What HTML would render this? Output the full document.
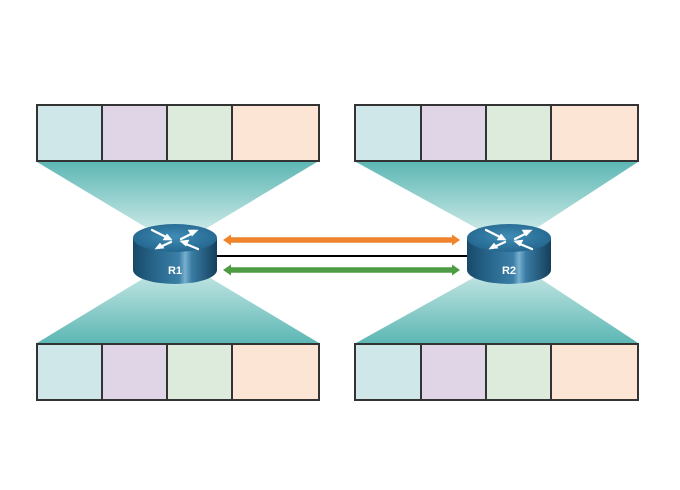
<!DOCTYPE html>
<html><head><meta charset="utf-8"><style>html,body{margin:0;padding:0;background:#fff}svg{display:block}</style></head>
<body>
<svg width="680" height="490" viewBox="0 0 680 490" xmlns="http://www.w3.org/2000/svg">
<defs>
<linearGradient id="cTop" x1="0" y1="0" x2="0" y2="1">
<stop offset="0" stop-color="#5db7b4"/><stop offset="0.85" stop-color="#cdeae8"/><stop offset="1" stop-color="#dff2f1"/>
</linearGradient>
<linearGradient id="cBot" x1="0" y1="1" x2="0" y2="0">
<stop offset="0" stop-color="#5db7b4"/><stop offset="0.8" stop-color="#bfe4e2"/><stop offset="1" stop-color="#dff2f1"/>
</linearGradient>
<linearGradient id="body" x1="0" y1="0" x2="1" y2="0">
<stop offset="0" stop-color="#174a68"/><stop offset="0.3" stop-color="#2a6a90"/><stop offset="0.55" stop-color="#3b7fa7"/><stop offset="0.62" stop-color="#78b0cf"/><stop offset="0.7" stop-color="#3a7ca4"/><stop offset="1" stop-color="#143f5b"/>
</linearGradient>
<radialGradient id="topf" cx="0.5" cy="0.45" r="0.6">
<stop offset="0" stop-color="#3f8cb5"/><stop offset="1" stop-color="#22648c"/>
</radialGradient>
<g id="router">
<rect x="-42" y="0" width="84" height="32" fill="url(#body)"/>
<ellipse cx="0" cy="32" rx="42" ry="14" fill="url(#body)"/>
<ellipse cx="0" cy="0" rx="42" ry="14" fill="url(#topf)"/>
<g stroke="#fff" stroke-width="2.3" fill="#fff" stroke-linecap="round">
<line x1="-23" y1="-8" x2="-9" y2="-1"/>
<polygon points="-3,2 -12,2 -8,-4" stroke-width="0.5"/>
<line x1="6" y1="1" x2="18" y2="-5"/>
<polygon points="23,-8 13,-8 17,-2" stroke-width="0.5"/>
<line x1="-4" y1="4" x2="-15" y2="9"/>
<polygon points="-20,11 -15,5 -11,10" stroke-width="0.5"/>
<line x1="23" y1="11" x2="11" y2="6"/>
<polygon points="5,3 14,2 11,8" stroke-width="0.5"/>
</g>
</g>
</defs>

<!-- cones -->
<polygon points="37,162 317,162 177,246" fill="url(#cTop)"/>
<polygon points="37,343 319,343 177,258" fill="url(#cBot)"/>
<polygon points="356,162 638,162 509,246" fill="url(#cTop)"/>
<polygon points="356,343 638,343 509,258" fill="url(#cBot)"/>

<!-- boxes -->
<g stroke="#333" stroke-width="2">
<rect x="37" y="105" width="65" height="56" fill="#cfe7e8"/>
<rect x="102" y="105" width="65" height="56" fill="#e0d5e7"/>
<rect x="167" y="105" width="65" height="56" fill="#dcebdb"/>
<rect x="232" y="105" width="87" height="56" fill="#fde5d5"/>
<rect x="37" y="344" width="65" height="56" fill="#cfe7e8"/>
<rect x="102" y="344" width="65" height="56" fill="#e0d5e7"/>
<rect x="167" y="344" width="65" height="56" fill="#dcebdb"/>
<rect x="232" y="344" width="87" height="56" fill="#fde5d5"/>
<rect x="355" y="105" width="66" height="56" fill="#cfe7e8"/>
<rect x="421" y="105" width="65" height="56" fill="#e0d5e7"/>
<rect x="486" y="105" width="65" height="56" fill="#dcebdb"/>
<rect x="551" y="105" width="87" height="56" fill="#fde5d5"/>
<rect x="355" y="344" width="66" height="56" fill="#cfe7e8"/>
<rect x="421" y="344" width="65" height="56" fill="#e0d5e7"/>
<rect x="486" y="344" width="65" height="56" fill="#dcebdb"/>
<rect x="551" y="344" width="87" height="56" fill="#fde5d5"/>
</g>

<!-- link -->
<line x1="215" y1="256" x2="470" y2="256" stroke="#000" stroke-width="2"/>
<polygon points="223,240 231,234.5 231,237.2 452,237.2 452,234.5 460,240 452,245.5 452,242.8 231,242.8 231,245.5" fill="#f0842c"/>
<polygon points="223,270 231,264.5 231,267.2 452,267.2 452,264.5 460,270 452,275.5 452,272.8 231,272.8 231,275.5" fill="#4d9c44"/>

<!-- routers -->
<use href="#router" x="175" y="238"/>
<use href="#router" x="509" y="238"/>
<text x="175" y="274" font-family="Liberation Sans, sans-serif" font-weight="bold" font-size="11" fill="#fff" text-anchor="middle">R1</text>
<text x="509" y="274" font-family="Liberation Sans, sans-serif" font-weight="bold" font-size="11" fill="#fff" text-anchor="middle">R2</text>
</svg>
</body></html>
